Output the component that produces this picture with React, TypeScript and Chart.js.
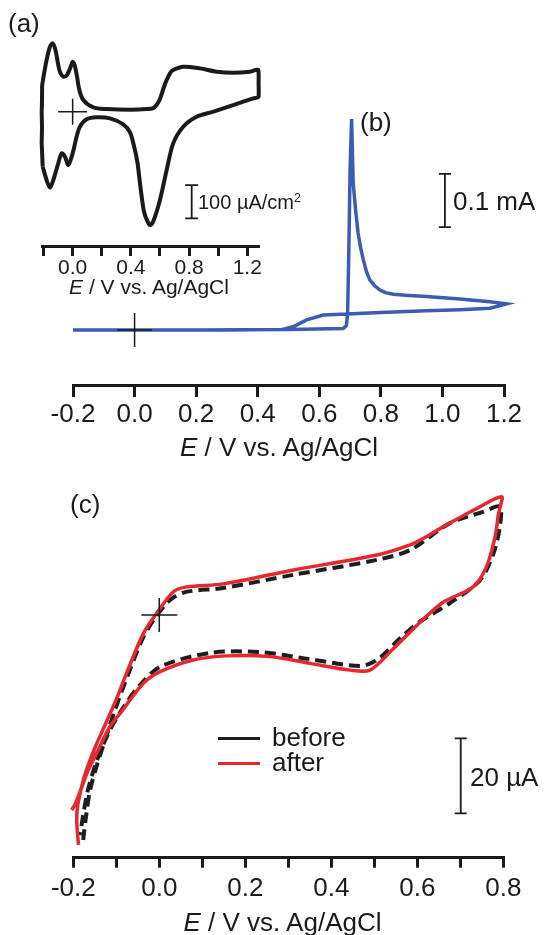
import React, { useEffect, useRef } from 'react';
import { Chart, registerables } from 'chart.js';

Chart.register(...registerables);

const W = 544;
const H = 935;
const FONT = '"Liberation Sans", Arial, Helvetica, sans-serif';
const INK = '#1a1a1a';

// ---------- Panel (a): current density (µA/cm²) vs E (V) ----------
const aPotential = [-0.206, -0.213, -0.213, -0.21, -0.202, -0.179, -0.156, -0.137, -0.118, -0.1, -0.087, -0.065, -0.04, -0.015, 0.0, 0.015, 0.03, 0.045, 0.073, 0.142, 0.234, 0.4, 0.509, 0.554, 0.577, 0.6, 0.625, 0.646, 0.67, 0.691, 0.76, 0.875, 0.99, 1.104, 1.219, 1.276, 1.278, 1.278, 1.241, 1.104, 0.967, 0.852, 0.76, 0.691, 0.646, 0.6, 0.555, 0.533, 0.515, 0.49, 0.465, 0.445, 0.42, 0.394, 0.348, 0.256, 0.165, 0.096, 0.05, 0.027, 0.0, -0.03, -0.053, -0.076, -0.099, -0.133, -0.156, -0.179, -0.206];
const aCurrentDensity = [-165, -95, 0, 76, 100, 155, 195, 205, 185, 143, 119, 105, 109, 133, 150, 138, 105, 67, 35, 13, 8, 6, 8, 11, 20, 38, 71, 95, 116, 125, 135, 130, 120, 117, 120, 125, 86, 45, 40, 20, 0, -15, -45, -95, -175, -265, -328, -340, -330, -299, -223, -152, -100, -62, -38, -20, -17, -23, -45, -75, -125, -160, -135, -125, -155, -205, -228, -205, -165];
const aTickValues = [-0.2, 0.0, 0.2, 0.4, 0.6, 0.8, 1.0, 1.2];
const aTickLabels = ['', '0.0', '', '0.4', '', '0.8', '', '1.2'];

// ---------- Panel (b): current (mA) vs E (V) ----------
const bPotential = [-0.2, 0.0, 0.3, 0.48, 0.515, 0.559, 0.613, 0.69, 0.8, 0.948, 1.057, 1.154, 1.208, 1.154, 1.057, 0.948, 0.88, 0.84, 0.815, 0.797, 0.78, 0.764, 0.753, 0.743, 0.734, 0.726, 0.718, 0.71, 0.705, 0.7, 0.696, 0.692, 0.688, 0.678, 0.5, 0.2, -0.2];
const bCurrent = [0.0, 0.0, 0.0, 0.001, 0.006, 0.019, 0.028, 0.03, 0.033, 0.036, 0.038, 0.041, 0.049, 0.053, 0.058, 0.063, 0.065, 0.067, 0.07, 0.075, 0.083, 0.094, 0.11, 0.132, 0.155, 0.182, 0.225, 0.277, 0.396, 0.3, 0.15, 0.03, 0.008, 0.003, 0.001, 0.0, 0.0];
const bTickValues = [-0.2, 0.0, 0.2, 0.4, 0.6, 0.8, 1.0, 1.2];
const bTickLabels = ['-0.2', '0.0', '0.2', '0.4', '0.6', '0.8', '1.0', '1.2'];

// ---------- Panel (c): current (µA) vs E (V), before / after ----------
const cBeforePotential = [-0.177, -0.17, -0.161, -0.145, -0.126, -0.103, -0.073, -0.038, -0.01, 0.025, 0.06, 0.148, 0.311, 0.506, 0.583, 0.676, 0.753, 0.792, 0.792, 0.777, 0.746, 0.676, 0.606, 0.56, 0.506, 0.467, 0.351, 0.234, 0.118, 0.002, -0.045, -0.08, -0.115, -0.145, -0.166, -0.177, -0.184];
const cBeforeCurrent = [-60.0, -53.3, -46.7, -40.0, -33.3, -25.3, -16.0, -6.1, -0.8, 4.0, 6.1, 7.2, 10.7, 14.7, 17.3, 24.5, 27.5, 28.9, 23.6, 16.4, 9.3, 3.2, -1.8, -6.2, -12.0, -13.6, -11.8, -9.9, -10.1, -13.8, -18.7, -24.0, -30.7, -38.7, -46.7, -53.3, -58.7];
const cAfterPotential = [-0.188, -0.192, -0.19, -0.181, -0.17, -0.15, -0.125, -0.1, -0.076, -0.037, -0.006, 0.033, 0.064, 0.149, 0.312, 0.506, 0.583, 0.62, 0.66, 0.738, 0.797, 0.789, 0.781, 0.761, 0.73, 0.66, 0.606, 0.544, 0.49, 0.444, 0.351, 0.257, 0.157, 0.079, 0.002, -0.037, -0.091, -0.115, -0.142, -0.165, -0.18, -0.196, -0.204];
const cAfterCurrent = [-61.3, -55.0, -51.0, -46.0, -41.5, -35.5, -29.0, -22.5, -15.5, -4.9, 0.5, 6.2, 7.5, 8.3, 12.0, 16.0, 18.7, 20.8, 23.5, 28.4, 31.5, 27.1, 20.9, 12.9, 7.5, 3.4, -2.0, -9.0, -14.7, -14.7, -12.9, -11.1, -10.9, -12.0, -15.1, -18.2, -26.2, -29.8, -36.0, -41.3, -45.8, -50.5, -52.0];
const cTickValues = [-0.2, -0.1, 0.0, 0.1, 0.2, 0.3, 0.4, 0.5, 0.6, 0.7, 0.8];
const cTickLabels = ['-0.2', '', '0.0', '', '0.2', '', '0.4', '', '0.6', '', '0.8'];
const cSeriesNames = ['before', 'after'];

const toPoints = (xs: number[], ys: number[]) => xs.map((x, i) => ({ x, y: ys[i] }));

type Cross = { x: number; y: number; h: number; v: number };
type Bar = { x: number; y0: number; y1: number; cap: number };

function overlayPlugin(cross: Cross, bar: Bar) {
  return {
    id: 'overlay',
    afterDatasetsDraw(chart: any) {
      const { ctx } = chart;
      const xs = chart.scales.x;
      const ys = chart.scales.y;
      ctx.save();
      ctx.strokeStyle = INK;
      ctx.lineWidth = 1.5;
      const cx = xs.getPixelForValue(cross.x);
      const cy = ys.getPixelForValue(cross.y);
      ctx.beginPath();
      ctx.moveTo(cx - cross.h, cy);
      ctx.lineTo(cx + cross.h, cy);
      ctx.moveTo(cx, cy - cross.v);
      ctx.lineTo(cx, cy + cross.v);
      ctx.stroke();
      const bx = xs.getPixelForValue(bar.x);
      const b0 = ys.getPixelForValue(bar.y0);
      const b1 = ys.getPixelForValue(bar.y1);
      ctx.lineWidth = 1.8;
      ctx.beginPath();
      ctx.moveTo(bx, b0);
      ctx.lineTo(bx, b1);
      ctx.moveTo(bx - bar.cap, b0);
      ctx.lineTo(bx + bar.cap, b0);
      ctx.moveTo(bx - bar.cap, b1);
      ctx.lineTo(bx + bar.cap, b1);
      ctx.stroke();
      ctx.restore();
    },
  };
}

type PanelOpts = {
  datasets: any[];
  xMin: number; xMax: number; yMin: number; yMax: number;
  ticks: number[]; labels: string[];
  area: { l: number; r: number; t: number; b: number };
  axisHeight: number; tickLength: number; tickPad: number; fontSize: number;
  plugin: any;
};

function makeConfig(o: PanelOpts): any {
  return {
    type: 'scatter',
    data: { datasets: o.datasets },
    options: {
      responsive: false,
      animation: false,
      events: [],
      layout: { padding: { left: o.area.l, right: W - o.area.r, top: o.area.t, bottom: H - o.area.b - o.axisHeight } },
      plugins: { legend: { display: false }, tooltip: { enabled: false } },
      scales: {
        x: {
          type: 'linear',
          min: o.xMin,
          max: o.xMax,
          afterBuildTicks: (s: any) => { s.ticks = o.ticks.map((v) => ({ value: v })); },
          afterFit: (s: any) => { s.height = o.axisHeight; },
          border: { display: true, width: 3, color: INK },
          grid: { display: true, drawOnChartArea: false, drawTicks: true, tickLength: o.tickLength, tickWidth: 3, lineWidth: 3, tickColor: INK, color: INK },
          ticks: {
            autoSkip: false, maxRotation: 0, minRotation: 0, padding: o.tickPad, color: INK,
            font: { family: FONT, size: o.fontSize },
            callback: (_v: any, i: number) => o.labels[i],
          },
        },
        y: { type: 'linear', display: false, min: o.yMin, max: o.yMax },
      },
    },
    plugins: [o.plugin],
  };
}

// pixel layouts
const aArea = { l: 42.1, r: 258.9, t: 30, b: 246 };
const bArea = { l: 73, r: 504, t: 100, b: 385 };
const cArea = { l: 73.3, r: 503.3, t: 480, b: 857.7 };

const configA = () => makeConfig({
  datasets: [{ data: toPoints(aPotential, aCurrentDensity), showLine: true, borderColor: INK, borderWidth: 4, pointRadius: 0, tension: 0.3, clip: false }],
  xMin: -0.21, xMax: 1.28, yMin: (111.7 - aArea.b) * 3.0, yMax: (111.7 - aArea.t) * 3.0,
  ticks: aTickValues, labels: aTickLabels, area: aArea,
  axisHeight: 40, tickLength: 10, tickPad: 0, fontSize: 21,
  plugin: overlayPlugin({ x: 0, y: 0, h: 14.5, v: 13 }, { x: 0.818, y0: -220, y1: -320, cap: 6.5 }),
});

const configB = () => makeConfig({
  datasets: [{ data: toPoints(bPotential, bCurrent), showLine: true, borderColor: '#3d5ab4', borderWidth: 3.5, pointRadius: 0, tension: 0, clip: false }],
  xMin: -0.2, xMax: 1.2, yMin: (330 - bArea.b) / 533, yMax: (330 - bArea.t) / 533,
  ticks: bTickValues, labels: bTickLabels, area: bArea,
  axisHeight: 50, tickLength: 12, tickPad: 2, fontSize: 26,
  plugin: overlayPlugin({ x: 0, y: 0, h: 17.5, v: 17 }, { x: 1.008, y0: 0.193, y1: 0.293, cap: 6 }),
});

const configC = () => makeConfig({
  datasets: [
    { label: cSeriesNames[1], data: toPoints(cAfterPotential, cAfterCurrent), showLine: true, borderColor: '#e8262d', borderWidth: 3.5, pointRadius: 0, tension: 0.3, clip: false, order: 1 },
    { label: cSeriesNames[0], data: toPoints(cBeforePotential, cBeforeCurrent), showLine: true, borderColor: '#1e1e1e', borderWidth: 4, borderDash: [11, 6], pointRadius: 0, tension: 0.3, clip: false, order: 2 },
  ],
  xMin: -0.2, xMax: 0.8, yMin: (615 - cArea.b) / 3.75, yMax: (615 - cArea.t) / 3.75,
  ticks: cTickValues, labels: cTickLabels, area: cArea,
  axisHeight: 50, tickLength: 10, tickPad: 6, fontSize: 26,
  plugin: overlayPlugin({ x: 0, y: 0, h: 18, v: 17 }, { x: 0.701, y0: -32.9, y1: -52.9, cap: 6 }),
});

function Panel({ make }: { make: () => any }) {
  const ref = useRef<HTMLCanvasElement | null>(null);
  useEffect(() => {
    if (!ref.current) return;
    const chart = new Chart(ref.current, make());
    return () => chart.destroy();
  }, [make]);
  return (
    <canvas ref={ref} width={W} height={H} style={{ position: 'absolute', left: 0, top: 0, width: W, height: H }} />
  );
}

function Label({ x, cy, size, center = false, paren = false, children }: any) {
  const top = cy - (paren ? 0.5865 : 0.49) * size;
  const style: React.CSSProperties = {
    position: 'absolute', top, left: x, fontSize: size, lineHeight: `${size}px`,
    whiteSpace: 'nowrap', fontFamily: FONT, color: INK,
  };
  if (center) style.transform = 'translateX(-50%)';
  return <div style={style}>{children}</div>;
}

export default function App() {
  return (
    <div style={{ position: 'absolute', left: 0, top: 0, width: W, height: H, background: '#fff', overflow: 'hidden' }}>
      <Panel make={configB} />
      <Panel make={configC} />
      <Panel make={configA} />

      <Label x={8} cy={25} size={26} paren>(a)</Label>
      <Label x={360} cy={124} size={26} paren>(b)</Label>
      <Label x={70} cy={506} size={26} paren>(c)</Label>

      <Label x={198} cy={201.7} size={20}>100 µA/cm<sup style={{ fontSize: '0.62em', verticalAlign: '0.55em', lineHeight: 0 }}>2</sup></Label>
      <Label x={453} cy={201} size={26}>0.1 mA</Label>
      <Label x={470} cy={776.7} size={26}>20 µA</Label>

      <Label x={149} cy={286.7} size={21} center><i>E</i> / V vs. Ag/AgCl</Label>
      <Label x={279} cy={447} size={26} center><i>E</i> / V vs. Ag/AgCl</Label>
      <Label x={282.5} cy={921.7} size={26} center><i>E</i> / V vs. Ag/AgCl</Label>

      <div style={{ position: 'absolute', left: 218, top: 736.5, width: 42, height: 3.5, background: '#1e1e1e' }} />
      <div style={{ position: 'absolute', left: 218, top: 761.5, width: 42, height: 3.5, background: '#e8262d' }} />
      <Label x={272} cy={737} size={26}>{cSeriesNames[0]}</Label>
      <Label x={272} cy={762} size={26}>{cSeriesNames[1]}</Label>
    </div>
  );
}
